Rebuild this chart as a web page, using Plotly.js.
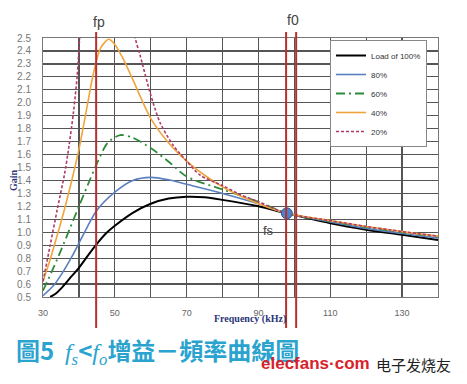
<!DOCTYPE html>
<html>
<head>
<meta charset="utf-8">
<script src="https://cdn.plot.ly/plotly-3.0.1.min.js"></script>
<style>html,body{margin:0;padding:0;background:#fff;}#chart{width:467px;height:384px;}</style>
</head>
<body>
<div id="chart"></div>
<script>
// ---- data ----
const freq100 = [32, 33.5, 35, 37.5, 40, 42.5, 45, 47.5, 50, 55, 60, 65, 70, 75, 80, 90, 97.9, 110, 120, 130, 140];
const gain100 = [0.50, 0.525, 0.565, 0.645, 0.725, 0.82, 0.91, 0.99, 1.05, 1.15, 1.22, 1.26, 1.274, 1.27, 1.25, 1.20, 1.146, 1.07, 1.02, 0.98, 0.94];

const freq80 = [30, 33, 35.7, 38, 40, 42.5, 45, 50, 55, 60, 65, 70, 80, 90, 97.9, 110, 120, 130, 140];
const gain80 = [0.51, 0.59, 0.70, 0.81, 0.915, 1.05, 1.17, 1.31, 1.40, 1.424, 1.405, 1.37, 1.30, 1.22, 1.146, 1.08, 1.03, 0.99, 0.955];

const freq60 = [30, 32.5, 35, 37.5, 40, 43, 45, 48, 51.5, 55, 60, 65, 70, 80, 90, 97.9, 110, 120, 130, 140];
const gain60 = [0.55, 0.70, 0.86, 1.03, 1.20, 1.40, 1.53, 1.69, 1.75, 1.73, 1.65, 1.545, 1.43, 1.33, 1.235, 1.146, 1.085, 1.04, 1.0, 0.965];

const freq40 = [30, 32, 34, 36, 38, 40, 42, 44, 46, 48.3, 50, 52.5, 55, 60, 65, 70, 75, 80, 85, 90, 97.9, 110, 120, 130, 140];
const gain40 = [0.62, 0.79, 0.98, 1.18, 1.40, 1.64, 1.93, 2.22, 2.42, 2.49, 2.45, 2.33, 2.18, 1.88, 1.69, 1.55, 1.44, 1.35, 1.28, 1.22, 1.146, 1.09, 1.045, 1.005, 0.97];

// 20% load: two branches (peak lies above the axis range)
const freq20 = [30, 32, 34, 36, 37.1, 38.5, 39.5, 40.2, 41, null, 54.5, 55.7, 57.1, 60, 62.7, 66.3, 70, 73.8, 80, 85, 90, 97.9, 110, 120, 130, 140];
const gain20 = [0.62, 0.90, 1.18, 1.45, 1.64, 1.93, 2.2, 2.5, 2.8, null, 2.75, 2.5, 2.36, 2.06, 1.84, 1.67, 1.55, 1.44, 1.36, 1.29, 1.235, 1.146, 1.09, 1.045, 1.005, 0.97];

const seriesNames = ['Load of 100%', '80%', '60%', '40%', '20%'];

const fsFreq = [97.9];
const fsGain = [1.146];
const fpFreq = 44.8;
const f0Freqs = [97.7, 100.5];

const xGrid = [30, 40, 50, 60, 70, 80, 90, 100, 110, 120, 130, 140];
const xTickText = ['30', '', '50', '', '70', '', '90', '', '110', '', '130', ''];

// ---- layout helpers ----
const W = 467, H = 384, ML = 43, MR = 29, MT = 38, MB = 87;
const PW = W - ML - MR, PH = H - MT - MB;
const px2x = p => (p - ML) / PW;
const py2y = p => (H - MB - p) / PH;

const sans = 'Liberation Sans, Arial, sans-serif';
const serif = 'Liberation Serif, DejaVu Serif, serif';
const navy = '#2b3577';

const traces = [
  {x: freq100, y: gain100, name: seriesNames[0], mode: 'lines', line: {color: '#000000', width: 2, shape: 'spline', smoothing: 0.8}},
  {x: freq80, y: gain80, name: seriesNames[1], mode: 'lines', line: {color: '#5a7fbf', width: 1.6, shape: 'spline', smoothing: 0.8}},
  {x: freq60, y: gain60, name: seriesNames[2], mode: 'lines', line: {color: '#2e8b3a', width: 1.8, dash: '9px,4px,2px,4px', shape: 'spline', smoothing: 0.8}},
  {x: freq40, y: gain40, name: seriesNames[3], mode: 'lines', line: {color: '#f0a53c', width: 1.6, shape: 'spline', smoothing: 0.8}},
  {x: freq20, y: gain20, name: seriesNames[4], mode: 'lines', connectgaps: false, line: {color: '#b03a6a', width: 1.6, dash: '3px,2px', shape: 'spline', smoothing: 0.8}},
  {x: fsFreq, y: fsGain, mode: 'markers', showlegend: false, marker: {color: '#4f81c4', size: 11, line: {color: '#2f5597', width: 1}}}
];

const redLine = {color: '#b5302f', width: 2};
const shapes = [
  {type: 'line', xref: 'x', yref: 'paper', x0: fpFreq, x1: fpFreq, y0: py2y(328), y1: py2y(32), line: redLine},
  ...f0Freqs.map(f => ({type: 'line', xref: 'x', yref: 'paper', x0: f, x1: f, y0: py2y(328), y1: py2y(32), line: redLine}))
];

const ann = (px, py, text, font, extra) => Object.assign({xref: 'paper', yref: 'paper', x: px2x(px), y: py2y(py), text: text,
  showarrow: false, xanchor: 'center', yanchor: 'middle', font: font}, extra || {});

const annotations = [
  ann(99, 22, 'fp', {family: sans, size: 14, color: '#444'}),
  ann(293, 20, 'f0', {family: sans, size: 14, color: '#444'}),
  ann(268, 230, 'fs', {family: sans, size: 13, color: '#444'}),
  ann(250, 319, '<b>Frequency (kHz)</b>', {family: serif, size: 10, color: navy}),
  ann(13, 180, '<b>Gain</b>', {family: serif, size: 10, color: navy}, {textangle: -90}),
  ann(14, 350, '<b>圖5</b>  <i><span style="font-family:Liberation Serif;font-weight:normal">f</span></i><sub><i><span style="font-family:Liberation Serif;font-weight:normal">s</span></i></sub><b>&lt;</b><i><span style="font-family:Liberation Serif;font-weight:normal">f</span></i><sub><i><span style="font-family:Liberation Serif;font-weight:normal">o</span></i></sub><b>增益－頻率曲線圖</b>',
      {family: 'Noto Sans CJK TC, sans-serif', size: 24, color: '#2aa3cf'}, {xanchor: 'left'}),
  ann(315, 363, '<b>elecfans·com</b>', {family: sans, size: 17, color: '#d8222a'}),
  ann(413, 364, '电子发烧友', {family: 'Noto Sans CJK SC, sans-serif', size: 15, color: '#222'})
];

const layout = {
  width: W, height: H,
  margin: {l: ML, r: MR, t: MT, b: MB, pad: 0},
  paper_bgcolor: '#ffffff', plot_bgcolor: '#ffffff',
  showlegend: true,
  legend: {x: px2x(330), y: py2y(40), xanchor: 'left', yanchor: 'top', bgcolor: '#ffffff', bordercolor: '#888', borderwidth: 1,
           font: {family: sans, size: 8, color: '#333'}},
  xaxis: {range: [30, 140], tickmode: 'array', tickvals: xGrid, ticktext: xTickText, showgrid: true, gridcolor: '#555', gridwidth: 1.2,
          ticks: 'outside', ticklen: 7, tickcolor: 'rgba(0,0,0,0)', tickfont: {family: sans, size: 9, color: '#666'},
          showline: true, mirror: true, linecolor: '#777', linewidth: 1, zeroline: false, fixedrange: true},
  yaxis: {range: [0.5, 2.5], tick0: 0.5, dtick: 0.1, tickformat: '.1f', showgrid: true, gridcolor: '#555', gridwidth: 1.2,
          ticks: 'outside', ticklen: 9, tickcolor: 'rgba(0,0,0,0)', tickfont: {family: sans, size: 10, color: '#777'},
          showline: true, mirror: true, linecolor: '#777', linewidth: 1, zeroline: false, fixedrange: true},
  shapes: shapes,
  annotations: annotations
};

Plotly.newPlot('chart', traces, layout, {displayModeBar: false, staticPlot: true});
</script>
</body>
</html>
